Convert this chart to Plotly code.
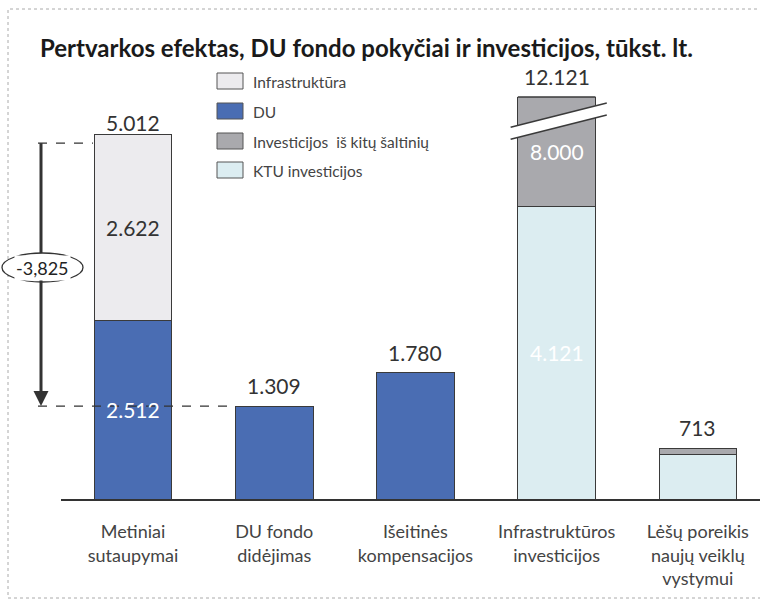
import plotly.graph_objects as go

categories = ["Metiniai<br>sutaupymai", "DU fondo<br>didėjimas", "Išeitinės<br>kompensacijos",
              "Infrastruktūros<br>investicijos", "Lėšų poreikis<br>naujų veiklų<br>vystymui"]
du = [2512, 1309, 1780, 0, 0]
infra = [2622, 0, 0, 0, 0]
ktu = [0, 0, 0, 4121, 623]
other = [0, 0, 0, 8000, 90]
totals = [5012, 1309, 1780, 12121, 713]
diff_label = "-3,825"

series_names = ["Infrastruktūra", "DU", "Investicijos  iš kitų šaltinių", "KTU investicijos"]
colors = {"Infrastruktūra": "#ecebee", "DU": "#4a6db3",
          "Investicijos  iš kitų šaltinių": "#a9a9ad", "KTU investicijos": "#dcedf1"}

W, H = 760, 601
L, R, T, B = 61, 0, 97, 102
PW, PH = W - L - R, H - T - B
YMAX = 5662
XMIN, XMAX = -0.51, 4.44
BW = 0.55
FONT = "Lato"


def fmt(v):
    return f"{v:,}".replace(",", ".")


def pxx(x):
    return (x - L) / PW


def pxy(y):
    return (H - B - y) / PH


x = list(range(len(categories)))
line = dict(color="#3a3a3a", width=1)
fig = go.Figure()
fig.add_bar(x=x, y=du, name="DU", marker=dict(color=colors["DU"], line=line), width=BW)
fig.add_bar(x=x, y=infra, name="Infrastruktūra", marker=dict(color=colors["Infrastruktūra"], line=line), width=BW)
fig.add_bar(x=x, y=ktu, name="KTU investicijos", marker=dict(color=colors["KTU investicijos"], line=line), width=BW)
fig.add_bar(x=x, y=other, name="Investicijos  iš kitų šaltinių",
            marker=dict(color=colors["Investicijos  iš kitų šaltinių"], line=line), width=BW)

annotations = []
shapes = []

# total labels above bars
for xi, t in zip(x, totals):
    annotations.append(dict(x=xi, y=min(t, YMAX), text=fmt(t), showarrow=False,
                            xanchor="center", yanchor="bottom", yshift=6,
                            font=dict(family=FONT, size=21, color="#333")))

# inside segment labels
segs = [(0, du[0] / 2, du[0], "white"),
        (0, du[0] + infra[0] / 2, infra[0], "#333"),
        (3, ktu[3] / 2, ktu[3], "white"),
        (3, (ktu[3] + YMAX) / 2, other[3], "white")]
for xi, yi, v, c in segs:
    annotations.append(dict(x=xi, y=yi, text=fmt(v), showarrow=False,
                            xanchor="center", yanchor="middle",
                            font=dict(family=FONT, size=21, color=c)))

# top edge of clipped bar
shapes.append(dict(type="line", xref="x", yref="paper", x0=3 - BW / 2, x1=3 + BW / 2, y0=1, y1=1,
                   line=dict(color="#3a3a3a", width=1.5)))

# axis break mark
bx0, bx1 = 2.674, 3.355
ya, yb = YMAX * 0.925, YMAX * 0.985
gap = YMAX * 0.03
shapes.append(dict(type="path", xref="x", yref="y",
                   path=f"M{bx0},{ya - gap} L{bx1},{yb - gap} L{bx1},{yb} L{bx0},{ya} Z",
                   fillcolor="white", line=dict(width=0)))
for off in (0, gap):
    shapes.append(dict(type="line", xref="x", yref="y", x0=bx0, y0=ya - off, x1=bx1, y1=yb - off,
                       line=dict(color="#3a3a3a", width=1.5)))

# dashed reference lines
shapes.append(dict(type="line", xref="paper", yref="y", x0=pxx(38), x1=pxx(93),
                   y0=totals[0], y1=totals[0], line=dict(color="#333", width=1.2, dash="dash")))
shapes.append(dict(type="line", xref="paper", yref="y", x0=pxx(38), x1=pxx(235),
                   y0=totals[1], y1=totals[1], line=dict(color="#333", width=1.2, dash="dash")))

# difference arrow: upper part as line, lower part with arrowhead, ellipse on top
ell_top, ell_bot = 253, 282
shapes.append(dict(type="line", xref="paper", yref="y", x0=pxx(41), x1=pxx(41),
                   y0=totals[0], y1=(totals[0] + totals[1]) / 2,
                   line=dict(color="#333", width=3)))
annotations.append(dict(x=pxx(41), xref="paper", y=totals[1], yref="y",
                        ax=0, axref="pixel", ay=(totals[0] + totals[1]) / 2, ayref="y",
                        showarrow=True, arrowhead=2, arrowsize=1, arrowwidth=3,
                        arrowcolor="#333", text=""))
shapes.append(dict(type="circle", xref="paper", yref="paper", x0=pxx(2), x1=pxx(83),
                   y0=pxy(ell_bot), y1=pxy(ell_top), fillcolor="white",
                   line=dict(color="#333", width=1.3), layer="above"))
annotations.append(dict(x=pxx(42.5), y=pxy(267.5), xref="paper", yref="paper", text=diff_label,
                        xanchor="center", yanchor="middle", bgcolor="white",
                        showarrow=False, font=dict(family=FONT, size=18, color="#222")))

# manual legend
legend_rows = [81, 111, 141, 170]
for name, yy in zip(series_names, legend_rows):
    shapes.append(dict(type="rect", xref="paper", yref="paper", x0=pxx(217), x1=pxx(243),
                       y0=pxy(yy + 8), y1=pxy(yy - 8), fillcolor=colors[name],
                       line=dict(color="#555", width=1)))
    annotations.append(dict(x=pxx(251), y=pxy(yy + 1), xref="paper", yref="paper", text=name,
                            xanchor="left", yanchor="middle", showarrow=False,
                            font=dict(family=FONT, size=15.5, color="#444")))

# title
annotations.append(dict(x=pxx(366), y=pxy(47), xref="paper", yref="paper",
                        text="<b>Pertvarkos efektas, DU fondo pokyčiai ir investicijos, tūkst. lt.</b>",
                        xanchor="center", yanchor="middle",
                        showarrow=False, font=dict(family=FONT, size=24, color="#1a1a1a")))

# scan frame
shapes.append(dict(type="rect", xref="paper", yref="paper", x0=pxx(8), x1=pxx(775),
                   y0=pxy(598), y1=pxy(9), line=dict(color="#aaa", width=1, dash="dot"), layer="below"))

fig.update_layout(
    width=W, height=H, barmode="stack", showlegend=False,
    margin=dict(l=L, r=R, t=T, b=B),
    plot_bgcolor="white", paper_bgcolor="white",
    xaxis=dict(range=[XMIN, XMAX], tickvals=x, ticktext=categories, showline=True,
               linecolor="#333", linewidth=1.5, showgrid=False, zeroline=False, ticks="",
               tickfont=dict(family=FONT, size=18, color="#444"), ticklabelstandoff=16),
    yaxis=dict(range=[0, YMAX], visible=False, showgrid=False, zeroline=False),
    annotations=annotations, shapes=shapes,
)
fig.write_html("out.html", config={"displayModeBar": False},
               post_script="document.body.style.margin='0px';")
